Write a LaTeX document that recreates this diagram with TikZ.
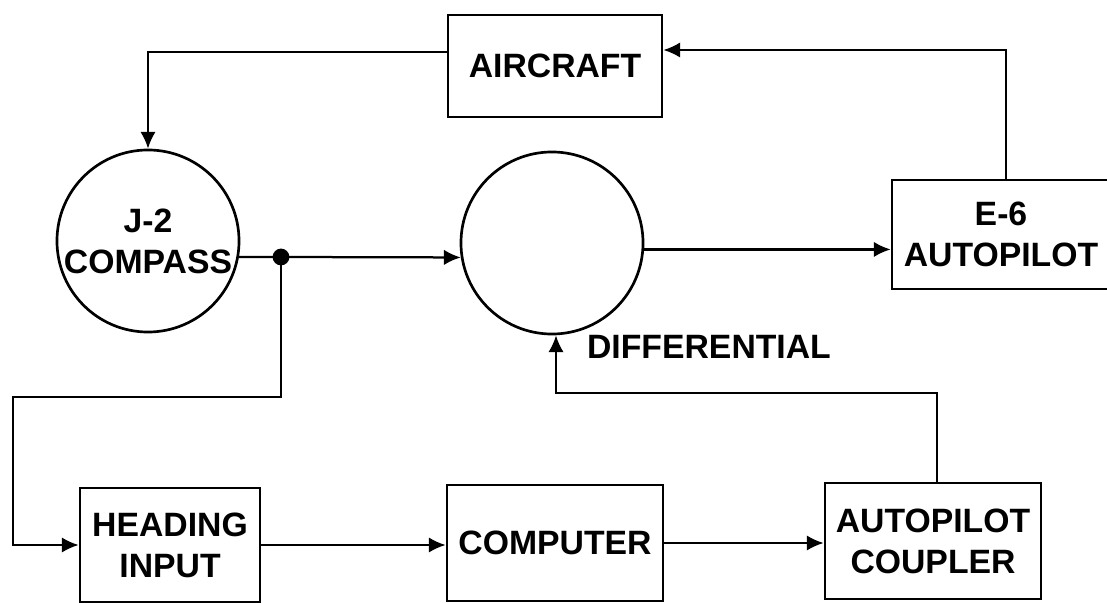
\documentclass[tikz,border=0pt]{standalone}
\usepackage{fontspec}
\setmainfont{Liberation Sans}
\usetikzlibrary{arrows.meta}

\begin{document}
\begin{tikzpicture}[x=0.025cm, y=-0.025cm, line width=1.6pt,
    >={Latex[length=12pt,width=11pt]},
    blk/.style={draw, line width=1.9pt, align=center, inner sep=0pt,
      font=\fontsize{24}{29}\selectfont\bfseries},
    rnd/.style={blk, circle, minimum size=4.55cm},
    lbl/.style={font=\fontsize{24}{29}\selectfont\bfseries, inner sep=0pt}]
  \useasboundingbox (0,0) rectangle (1107,603);
  \node[blk, minimum width=5.35cm, minimum height=2.55cm] (air) at (555,66) {AIRCRAFT};
  \node[rnd] (cmp) at (148,241) {J-2\\COMPASS};
  \node[rnd] (dif) at (552,243) {};
  \node[lbl, anchor=west] (diflbl) at (586,347) {DIFFERENTIAL};
  \node[blk, minimum width=5.45cm, minimum height=2.725cm] (e6) at (1001,234.5) {E-6\\AUTOPILOT};
  \node[blk, minimum width=4.5cm, minimum height=2.85cm] (hdg) at (170,545) {HEADING\\INPUT};
  \node[blk, minimum width=5.4cm, minimum height=2.9cm] (cpu) at (555,543) {COMPUTER};
  \node[blk, minimum width=5.4cm, minimum height=2.9cm] (cpl) at (933,541) {AUTOPILOT\\COUPLER};
  \coordinate (jn) at (281,257);
  \coordinate (lft) at (13,397);
  \coordinate (ret) at (556,393);
  \draw[->] ([yshift=0.35cm]air.west) -| (cmp.north);
  \draw (cmp.-10) -- (jn);
  \fill (jn) circle (0.21cm);
  \draw[->] (jn) -- (dif.189);
  \draw[->] (dif.-4) -- (dif.-4 -| e6.west);
  \draw[->] ([xshift=0.125cm]e6.north) |- ([yshift=0.4cm]air.east);
  \draw[->] (jn) |- (lft) |- (hdg.west);
  \draw[->] (hdg.east) -- (hdg.east -| cpu.west);
  \draw[->] (cpu.east) -- (cpu.east -| cpl.west);
  \draw[->] ([xshift=0.1cm]cpl.north) |- (ret) -- (ret |- dif.south);
\end{tikzpicture}
\end{document}
